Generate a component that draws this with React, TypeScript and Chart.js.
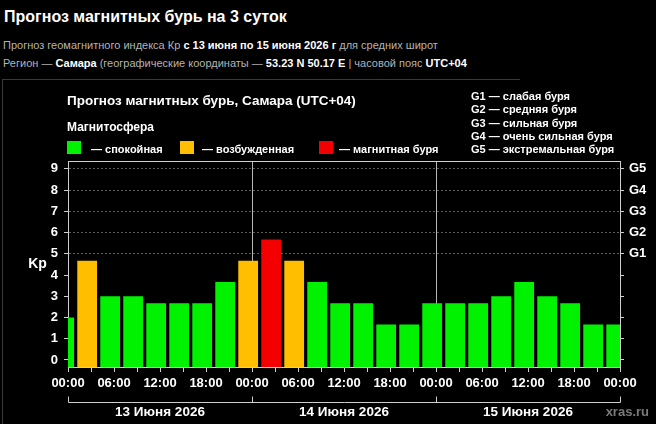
import React, { useEffect, useRef } from 'react';
import { Chart, registerables } from 'chart.js';

Chart.register(...registerables);

// ---- data ----
const KP_VALUES = [
  2.0, 4.67, 3.0, 3.0, 2.67, 2.67, 2.67, 3.67,
  4.67, 5.67, 4.67, 3.67, 2.67, 2.67, 1.67, 1.67,
  2.67, 2.67, 2.67, 3.0, 3.67, 3.0, 2.67, 1.67, 1.67,
];
const FIRST_BIN_START_HOUR = -2; // 22:00 of the previous day (UTC+04)
const BIN_HOURS = 3;
const X_TICK_HOURS = [0, 3, 6, 9, 12, 15, 18, 21, 24, 27, 30, 33, 36, 39, 42, 45, 48, 51, 54, 57, 60, 63, 66, 69, 72];
const DAY_LABELS = ['13 Июня 2026', '14 Июня 2026', '15 Июня 2026'];
const Y_TICKS = [0, 1, 2, 3, 4, 5, 6, 7, 8, 9];
const G_LEVELS = ['G1 — слабая буря', 'G2 — средняя буря', 'G3 — сильная буря', 'G4 — очень сильная буря', 'G5 — экстремальная буря'];
const LEGEND_LABELS = ['— спокойная', '— возбужденная', '— магнитная буря'];

const Y_MIN = -0.33;
const Y_MAX = 9.37;

const GREEN = '#00f200';
const ORANGE = '#ffbf00';
const RED = '#f50000';
const LEGEND_COLORS = [GREEN, ORANGE, RED];

const FONT = '"Liberation Sans", Arial, Helvetica, sans-serif';

function colorFor(v: number): string {
  if (v >= 5) return RED;
  if (v >= 4) return ORANGE;
  return GREEN;
}

function hourLabel(v: number): string {
  const h = ((v % 24) + 24) % 24;
  return (h < 10 ? '0' + h : '' + h) + ':00';
}

const overlayPlugin = {
  id: 'overlay',
  afterDraw(chart: any) {
    const { ctx, chartArea } = chart;
    const xs = chart.scales.x;
    const ys = chart.scales.y;
    ctx.save();
    // top border of plot
    ctx.strokeStyle = '#cfcfcf';
    ctx.lineWidth = 1;
    ctx.beginPath();
    ctx.moveTo(chartArea.left, chartArea.top + 0.5);
    ctx.lineTo(chartArea.right, chartArea.top + 0.5);
    ctx.stroke();

    // Kp label
    ctx.fillStyle = '#ffffff';
    ctx.font = `bold 14px ${FONT}`;
    ctx.textAlign = 'center';
    ctx.textBaseline = 'middle';
    ctx.fillText('Kp', 37.5, ys.getPixelForValue(4.5));

    // day bracket
    const yLine = 402.5;
    const x0 = Math.round(xs.getPixelForValue(0)) + 0.5;
    const x1 = Math.round(xs.getPixelForValue(72)) + 0.5;
    ctx.strokeStyle = '#cfcfcf';
    ctx.beginPath();
    ctx.moveTo(x0, yLine);
    ctx.lineTo(x1, yLine);
    for (let d = 0; d <= DAY_LABELS.length; d++) {
      const x = Math.round(xs.getPixelForValue(d * 24)) + 0.5;
      ctx.moveTo(x, yLine);
      ctx.lineTo(x, yLine - 6);
    }
    ctx.stroke();

    ctx.font = `bold 13.5px ${FONT}`;
    ctx.textBaseline = 'alphabetic';
    ctx.fillStyle = '#ffffff';
    DAY_LABELS.forEach((lab, d) => {
      const cx = (xs.getPixelForValue(d * 24) + xs.getPixelForValue(d * 24 + 24)) / 2;
      ctx.fillText(lab, cx, 415.5);
    });

    ctx.textAlign = 'right';
    ctx.fillStyle = '#7a7a7a';
    ctx.font = `bold 13px ${FONT}`;
    ctx.fillText('xras.ru', 649, 415.5);
    ctx.restore();
  },
};

export default function App() {
  const canvasRef = useRef<HTMLCanvasElement | null>(null);

  useEffect(() => {
    document.body.style.margin = '0';
    document.body.style.background = '#000';
    const canvas = canvasRef.current;
    if (!canvas) return;
    const points = KP_VALUES.map((v, i) => ({
      x: FIRST_BIN_START_HOUR + BIN_HOURS * i + BIN_HOURS / 2,
      y: v,
    }));
    const tickFont = { family: FONT, size: 13, weight: 'bold' as const };
    const chart = new Chart(canvas, {
      type: 'bar',
      data: {
        datasets: [
          {
            data: points as any,
            backgroundColor: KP_VALUES.map(colorFor),
            borderWidth: 0,
            base: Y_MIN,
            clip: 0,
            barPercentage: 0.86,
            categoryPercentage: 1,
          } as any,
        ],
      },
      options: {
        animation: false,
        responsive: false,
        devicePixelRatio: 1,
        layout: { padding: { left: 0, right: 0, top: 161, bottom: 33 } },
        plugins: {
          legend: { display: false },
          tooltip: { enabled: false },
          title: { display: false },
        },
        scales: {
          x: {
            type: 'linear',
            position: 'bottom',
            min: 0,
            max: 72,
            offset: false,
            afterBuildTicks: (s: any) => {
              s.ticks = X_TICK_HOURS.map((v) => ({ value: v }));
            },
            afterFit: (s: any) => {
              s.height = 24;
            },
            ticks: {
              autoSkip: false,
              maxRotation: 0,
              minRotation: 0,
              color: '#ffffff',
              font: tickFont,
              padding: 4,
              callback: (v: any) => (Number(v) % 6 === 0 ? hourLabel(Number(v)) : ''),
            },
            grid: {
              offset: false,
              color: (c: any) =>
                c.tick && (c.tick.value === 24 || c.tick.value === 48) ? '#b8b8b8' : 'rgba(0,0,0,0)',
              tickColor: '#cfcfcf',
              tickLength: 5,
              lineWidth: 1,
            },
            border: { color: '#cfcfcf' },
          } as any,
          y: {
            type: 'linear',
            position: 'left',
            min: Y_MIN,
            max: Y_MAX,
            afterBuildTicks: (s: any) => {
              s.ticks = Y_TICKS.map((v) => ({ value: v }));
            },
            afterFit: (s: any) => {
              s.width = 68;
            },
            ticks: {
              color: '#ffffff',
              font: tickFont,
              padding: 6,
              callback: (v: any) => String(v),
            },
            grid: {
              color: (c: any) => (c.tick && c.tick.value >= 5 ? '#5c5c5c' : 'rgba(0,0,0,0)'),
              tickColor: '#cfcfcf',
              tickLength: 4,
            },
            border: { color: '#cfcfcf', dash: [2, 2] },
          } as any,
          yG: {
            type: 'linear',
            position: 'right',
            min: Y_MIN,
            max: Y_MAX,
            afterBuildTicks: (s: any) => {
              s.ticks = Y_TICKS.map((v) => ({ value: v }));
            },
            afterFit: (s: any) => {
              s.width = 36;
            },
            ticks: {
              color: '#ffffff',
              font: tickFont,
              padding: 5,
              callback: (v: any) => (Number(v) >= 5 ? 'G' + (Number(v) - 4) : ''),
            },
            grid: {
              drawOnChartArea: false,
              tickColor: '#cfcfcf',
              tickLength: 4,
            },
            border: { color: '#cfcfcf' },
          } as any,
        },
      },
      plugins: [overlayPlugin],
    });
    return () => chart.destroy();
  }, []);

  const gray = '#b4b4b4';
  const txt = (top: number, left: number, size: number, bold: boolean, color: string) => ({
    position: 'absolute' as const,
    top,
    left,
    fontSize: size,
    lineHeight: size + 'px',
    fontWeight: bold ? 700 : 400,
    color,
    whiteSpace: 'nowrap' as const,
    fontFamily: FONT,
  });
  const legendLeft = [67, 180, 319];
  const legendTextLeft = [91, 202, 339];

  return (
    <div style={{ position: 'fixed', left: 0, top: 0, width: 656, height: 424, background: '#000', overflow: 'hidden', fontFamily: FONT }}>
      <div style={txt(8.8, 4, 16, true, '#fff')}>Прогноз магнитных бурь на 3 суток</div>
      <div style={txt(39.7, 3, 11, false, gray)}>
        Прогноз геомагнитного индекса Кр <b style={{ color: '#fff' }}>с 13 июня по 15 июня 2026 г</b> для средних широт
      </div>
      <div style={txt(58, 3, 11, false, gray)}>
        Регион — <b style={{ color: '#fff' }}>Самара</b> (географические координаты — <b style={{ color: '#fff' }}>53.23 N 50.17 E</b> | часовой пояс <b style={{ color: '#fff' }}>UTC+04</b>
      </div>
      <div style={{ position: 'absolute', left: 2, top: 79, width: 518, height: 1, background: '#3a3a3a' }} />
      <div style={{ position: 'absolute', left: 2, top: 79, width: 1, height: 345, background: '#3a3a3a' }} />
      <canvas ref={canvasRef} width={656} height={424} style={{ position: 'absolute', left: 0, top: 0, width: 656, height: 424 }} />
      <div style={txt(94.4, 67, 13.5, true, '#fff')}>Прогноз магнитных бурь, Самара (UTC+04)</div>
      <div style={txt(120.5, 67, 12, true, '#fff')}>Магнитосфера</div>
      {LEGEND_LABELS.map((lab, i) => (
        <React.Fragment key={lab}>
          <div style={{ position: 'absolute', left: legendLeft[i], top: 141, width: 14, height: 13, background: LEGEND_COLORS[i] }} />
          <div style={txt(143.7, legendTextLeft[i], 11, true, '#fff')}>{lab}</div>
        </React.Fragment>
      ))}
      {G_LEVELS.map((lab, i) => (
        <div key={lab} style={txt(100 + i * 13.4 - 9.3, 471, 11, true, '#fff')}>{lab}</div>
      ))}
    </div>
  );
}
